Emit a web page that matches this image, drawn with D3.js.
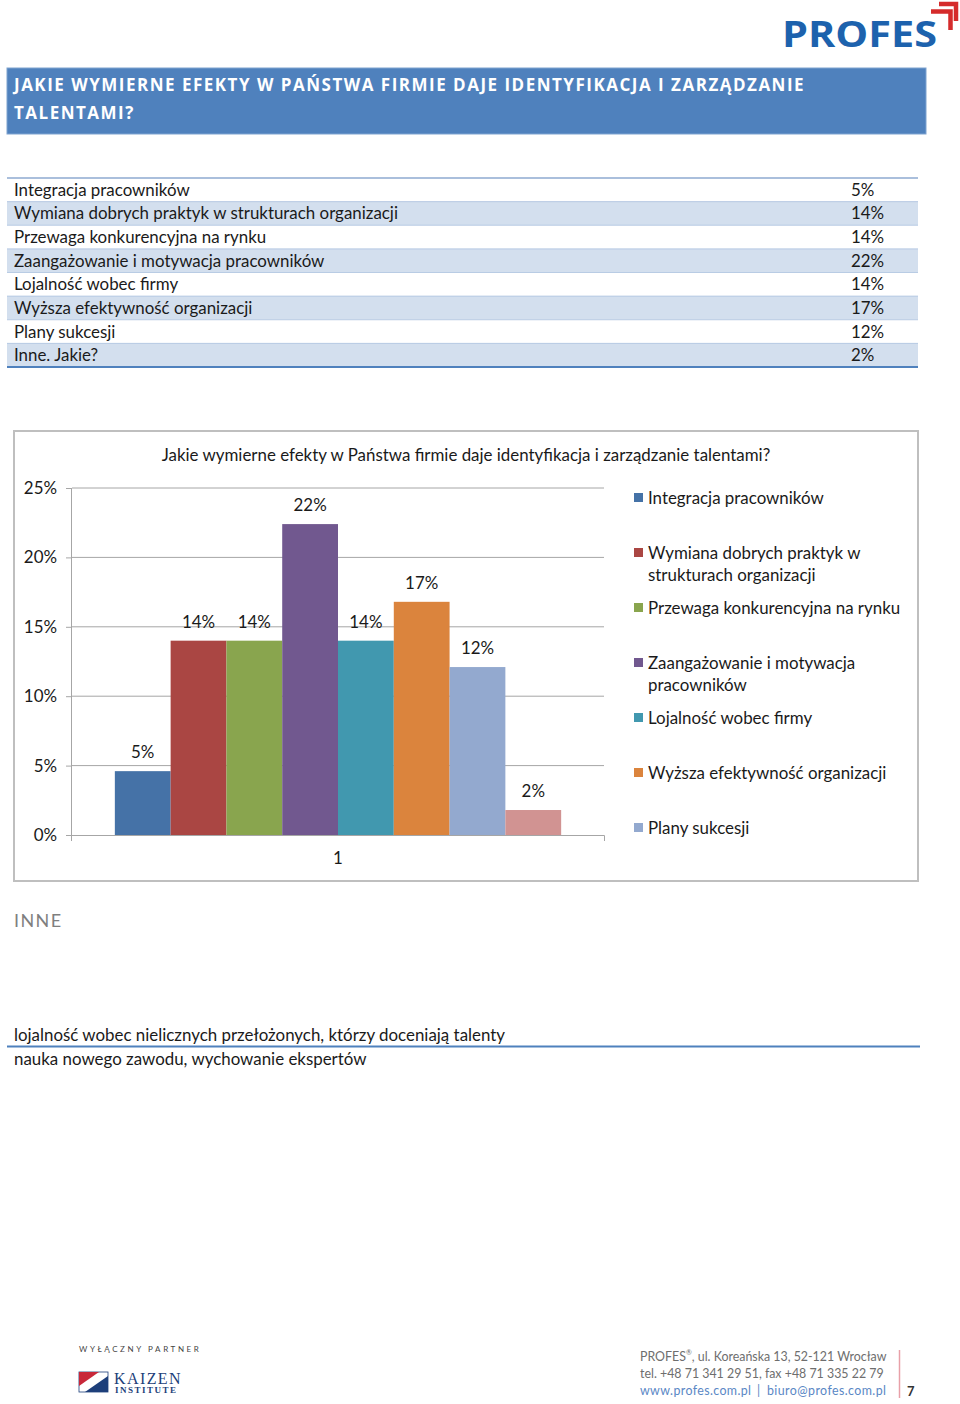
<!DOCTYPE html>
<html>
<head>
<meta charset="utf-8">
<script src="https://cdn.jsdelivr.net/npm/d3@7/dist/d3.min.js"></script>
<style>
  html, body { margin: 0; padding: 0; background: #fff; }
  svg { display: block; font-family: Lato, "Open Sans", sans-serif; }
</style>
</head>
<body>
<svg id="page" width="960" height="1404"></svg>
<script>
// ---------- DATA ----------
const titleLines = ["JAKIE WYMIERNE EFEKTY W PAŃSTWA FIRMIE DAJE IDENTYFIKACJA I ZARZĄDZANIE", "TALENTAMI?"];
const categories = [
  "Integracja pracowników",
  "Wymiana dobrych praktyk w strukturach organizacji",
  "Przewaga konkurencyjna na rynku",
  "Zaangażowanie i motywacja pracowników",
  "Lojalność wobec firmy",
  "Wyższa efektywność organizacji",
  "Plany sukcesji",
  "Inne. Jakie?"
];
const tableLabels = ["5%", "14%", "14%", "22%", "14%", "17%", "12%", "2%"];
const values = [0.046, 0.14, 0.14, 0.224, 0.14, 0.168, 0.121, 0.018];
const colors = ["#4572a7", "#aa4643", "#89a54e", "#71588f", "#4198af", "#db843d", "#93a9cf", "#d19392"];
const legendLines = [
  ["Integracja pracowników"],
  ["Wymiana dobrych praktyk w", "strukturach organizacji"],
  ["Przewaga konkurencyjna na rynku"],
  ["Zaangażowanie i motywacja", "pracowników"],
  ["Lojalność wobec firmy"],
  ["Wyższa efektywność organizacji"],
  ["Plany sukcesji"]
];
const yTicks = [0, 0.05, 0.10, 0.15, 0.20, 0.25];
const xCategory = ["1"];
const chartTitle = "Jakie wymierne efekty w Państwa firmie daje identyfikacja i zarządzanie talentami?";
const otherHeading = "INNE";
const otherAnswers = ["lojalność wobec nielicznych przełożonych, którzy doceniają talenty", "nauka nowego zawodu, wychowanie ekspertów"];
const footerLines = ["PROFES", ", ul. Koreańska 13, 52-121 Wrocław", "tel. +48 71 341 29 51, fax +48 71 335 22 79"];
const footerLinks = ["www.profes.com.pl", "|", "biuro@profes.com.pl"];
const pageNumber = "7";

// ---------- PAGE ----------
const svg = d3.select("#page");
const FS = 16.9;

// logo
const logo = svg.append("g");
logo.append("text").attr("x", 782).attr("y", 47).attr("font-family", "Open Sans, sans-serif")
  .attr("font-weight", 700).attr("font-size", 35).attr("fill", "#1d62ad")
  .attr("textLength", 155).attr("lengthAdjust", "spacingAndGlyphs")
  .text("PROFES");
logo.append("path").attr("d", "M931,11.5 H950.5 V30").attr("fill", "none").attr("stroke", "#d52b2b").attr("stroke-width", 4.5);
logo.append("path").attr("d", "M939,4 H956 V21").attr("fill", "none").attr("stroke", "#d52b2b").attr("stroke-width", 4.5);

// title band
svg.append("rect").attr("x", 7).attr("y", 68).attr("width", 919).attr("height", 66)
  .attr("fill", "#4f81bd").attr("stroke", "#7fa3d0").attr("stroke-width", 1);
svg.selectAll(".tline").data(titleLines).enter().append("text")
  .attr("x", 14).attr("y", (d, i) => 91 + i * 28)
  .attr("fill", "#fff").attr("font-size", 17).attr("font-weight", 700).attr("letter-spacing", 1.5)
  .attr("font-family", "Open Sans, sans-serif")
  .text(d => d);

// table
const rowY = d3.scaleBand().domain(d3.range(categories.length)).range([178, 367]);
const table = svg.append("g");
table.selectAll("rect").data(categories).enter().append("rect")
  .attr("x", 7).attr("width", 911).attr("y", (d, i) => rowY(i)).attr("height", rowY.bandwidth())
  .attr("fill", (d, i) => i % 2 ? "#d3dfee" : "#fff");
table.selectAll(".sep").data(d3.range(1, categories.length)).enter().append("line")
  .attr("x1", 7).attr("x2", 918).attr("y1", i => rowY(i)).attr("y2", i => rowY(i))
  .attr("stroke", "#a9c0de").attr("stroke-width", 0.8);
table.append("line").attr("x1", 7).attr("x2", 918).attr("y1", 178).attr("y2", 178).attr("stroke", "#8eaad0").attr("stroke-width", 1.5);
table.append("line").attr("x1", 7).attr("x2", 918).attr("y1", 367).attr("y2", 367).attr("stroke", "#4f81bd").attr("stroke-width", 2);
table.selectAll(".cat").data(categories).enter().append("text")
  .attr("x", 14).attr("y", (d, i) => rowY(i) + rowY.bandwidth() / 2 + 6)
  .attr("font-size", FS).attr("fill", "#1a1a1a").text(d => d);
table.selectAll(".val").data(tableLabels).enter().append("text")
  .attr("x", 851).attr("y", (d, i) => rowY(i) + rowY.bandwidth() / 2 + 6)
  .attr("font-size", FS).attr("fill", "#1a1a1a").text(d => d);

// chart frame
svg.append("rect").attr("x", 14).attr("y", 431).attr("width", 904).attr("height", 450)
  .attr("fill", "#fff").attr("stroke", "#bfbfbf").attr("stroke-width", 2);
svg.append("text").attr("x", 466).attr("y", 461).attr("text-anchor", "middle")
  .attr("font-size", FS).attr("fill", "#1a1a1a").text(chartTitle);

const y = d3.scaleLinear().domain([0, 0.25]).range([835, 488]);
const x0 = d3.scaleBand().domain(xCategory).range([72, 604]).paddingOuter(0.096).paddingInner(0);
const x1 = d3.scaleBand().domain(categories).range([0, x0.bandwidth()]);

// gridlines
svg.append("g").selectAll("line").data(yTicks.slice(1)).enter().append("line")
  .attr("x1", 72).attr("x2", 604).attr("y1", d => y(d)).attr("y2", d => y(d))
  .attr("stroke", "#a6a6a6").attr("stroke-width", 1);

// y axis
const yAxis = svg.append("g").attr("transform", "translate(72,0)")
  .call(d3.axisLeft(y).tickValues(yTicks).tickFormat(d3.format(".0%")).tickSize(6).tickPadding(9));
yAxis.select(".domain").attr("stroke", "#a6a6a6").attr("d", "M-0.5,488V841");
yAxis.selectAll(".tick line").attr("stroke", "#a6a6a6");
yAxis.selectAll("text").attr("font-size", FS).attr("fill", "#1a1a1a").attr("font-family", "Lato, sans-serif");

// bars
const bars = svg.append("g").attr("transform", `translate(${x0("1")},0)`);
bars.selectAll("rect").data(values).enter().append("rect")
  .attr("x", (d, i) => x1(categories[i])).attr("width", x1.bandwidth())
  .attr("y", d => y(d)).attr("height", d => y(0) - y(d))
  .attr("fill", (d, i) => colors[i]);
bars.selectAll("text").data(values).enter().append("text")
  .attr("x", (d, i) => x1(categories[i]) + x1.bandwidth() / 2)
  .attr("y", d => y(d) - 13).attr("text-anchor", "middle")
  .attr("font-size", FS).attr("fill", "#1a1a1a")
  .text(d => d3.format(".0%")(d));

// x axis
const xAxis = svg.append("g").attr("transform", "translate(0,835)")
  .call(d3.axisBottom(x0).tickSize(0).tickPadding(17));
xAxis.select(".domain").attr("stroke", "#a6a6a6").attr("d", "M66,0.5H604.5V6");
xAxis.selectAll("text").attr("font-size", FS).attr("fill", "#1a1a1a").attr("font-family", "Lato, sans-serif");

// legend
const legendY = [498, 553, 608, 663, 718, 773, 828];
const legend = svg.append("g");
legendLines.forEach((lines, i) => {
  legend.append("rect").attr("x", 634).attr("y", legendY[i] - 5).attr("width", 9).attr("height", 9).attr("fill", colors[i]);
  lines.forEach((t, j) => {
    legend.append("text").attr("x", 648).attr("y", legendY[i] + 6 + j * 22)
      .attr("font-size", FS).attr("fill", "#1a1a1a").text(t);
  });
});

// INNE section
svg.append("text").attr("x", 14).attr("y", 927).attr("font-size", 18).attr("fill", "#7f7f7f")
  .attr("letter-spacing", 1.4).text(otherHeading);
svg.selectAll(".other").data(otherAnswers).enter().append("text")
  .attr("x", 14).attr("y", (d, i) => 1041 + i * 24).attr("font-size", FS).attr("fill", "#1a1a1a").text(d => d);
svg.append("line").attr("x1", 7).attr("x2", 920).attr("y1", 1046.5).attr("y2", 1046.5).attr("stroke", "#4f81bd").attr("stroke-width", 2);

// footer left: partner
svg.append("text").attr("x", 79).attr("y", 1352).attr("font-size", 8).attr("letter-spacing", 2.6)
  .attr("fill", "#444").text("WYŁĄCZNY PARTNER");
const flag = svg.append("g");
flag.append("rect").attr("x", 79).attr("y", 1372).attr("width", 29).attr("height", 20).attr("fill", "#fff").attr("stroke", "#1d3f7a").attr("stroke-width", 0.8);
flag.append("path").attr("d", "M79,1372 H99 L79,1386 Z").attr("fill", "#c8283a");
flag.append("path").attr("d", "M108,1376 V1392 H85 Z").attr("fill", "#1d3f7a");
svg.append("text").attr("x", 114).attr("y", 1384).attr("font-family", "Liberation Serif, serif").attr("font-size", 16)
  .attr("letter-spacing", 1.4).attr("fill", "#1d3f7a").text("KAIZEN");
svg.append("text").attr("x", 115).attr("y", 1393).attr("font-family", "Liberation Serif, serif").attr("font-size", 9).attr("font-weight", 700)
  .attr("letter-spacing", 1.5).attr("fill", "#1d3f7a").text("INSTITUTE");

// footer right
const FF = 12.4;
const f1 = svg.append("text").attr("x", 640).attr("y", 1361).attr("font-size", FF).attr("fill", "#6e6e6e");
f1.append("tspan").text(footerLines[0]);
f1.append("tspan").attr("font-size", 7).attr("dy", -6).text("®");
f1.append("tspan").attr("dy", 6).text(footerLines[1]);
svg.append("text").attr("x", 640).attr("y", 1378).attr("font-size", FF).attr("fill", "#6e6e6e").text(footerLines[2]);
const linkX = [640, 757, 767];
const linkLen = [111, null, 119];
footerLinks.forEach((t, i) => {
  const el = svg.append("text").attr("x", linkX[i]).attr("y", 1395).attr("font-size", FF).attr("fill", "#5a87c5").text(t);
  if (linkLen[i]) el.attr("textLength", linkLen[i]).attr("lengthAdjust", "spacing");
});
svg.append("line").attr("x1", 899.5).attr("x2", 899.5).attr("y1", 1350).attr("y2", 1398).attr("stroke", "#e8a0a8").attr("stroke-width", 1.5);
svg.append("text").attr("x", 907).attr("y", 1396).attr("font-size", 13).attr("font-weight", 700).attr("fill", "#333").text(pageNumber);
</script>
</body>
</html>
